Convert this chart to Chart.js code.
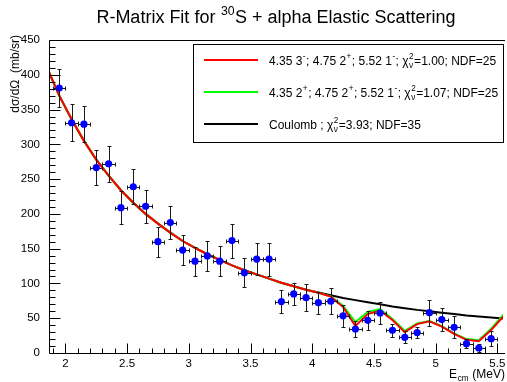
<!DOCTYPE html>
<html>

<head>
    <meta charset="utf-8">
    <title>R-Matrix fit</title>
    <script src="https://cdn.jsdelivr.net/npm/chart.js@4.4.1/dist/chart.umd.min.js"></script>
    <style>
        body { margin: 0; background: #fff; overflow: hidden; }
        #wrap { width: 507px; height: 382px; position: relative; }
    </style>
</head>

<body>
    <div id="wrap"><canvas id="c"></canvas></div>
    <script>
        // measured points (E_cm in MeV, cross section in mb/sr)
        const energies = [1.95, 2.05, 2.15, 2.25, 2.35, 2.45, 2.55, 2.65, 2.75, 2.85, 2.95, 3.05, 3.15, 3.25, 3.35, 3.45, 3.55, 3.65,
            3.75, 3.85, 3.95, 4.05, 4.15, 4.25, 4.35, 4.45, 4.55, 4.65, 4.75, 4.85, 4.95, 5.05, 5.15, 5.25, 5.35, 5.45]
        const sigma = [381, 331, 329, 266.6, 272, 209, 239, 211, 160, 187.5, 148, 132, 139.6, 132, 161.6, 115.5, 135, 135,
            74, 85, 79.6, 72.4, 74.4, 53.5, 34.5, 47, 57.5, 32.6, 22.6, 29.3, 58, 48, 37, 13.4, 7.2, 20.6]
        const sigmaErr = [28, 26.6, 26, 25, 26, 24, 25, 24, 21.6, 23.7, 21.6, 21, 22, 21.6, 24.5, 21, 23, 23.7,
            17, 16, 19, 16, 18.7, 15.6, 12, 13.7, 16, 9, 8.4, 8.4, 18.5, 17, 16, 6.7, 6, 11]
        const energyErr = 0.05

        // fit curves
        const curveE = [1.87, 1.95, 2.05, 2.15, 2.25, 2.35, 2.45, 2.55, 2.65, 2.75, 2.85, 2.95, 3.05, 3.15, 3.25, 3.35, 3.45, 3.55, 3.65,
            3.75, 3.85, 3.95, 4.05, 4.15, 4.25, 4.35, 4.45, 4.55, 4.65, 4.75, 4.85, 4.95, 5.05, 5.15, 5.25, 5.35, 5.45, 5.55]
        const fit3minus = [403, 370, 336, 305, 278, 255, 234, 216, 200, 186, 173, 161, 151, 142, 134, 126, 119, 113, 107,
            101, 96, 91, 86.5, 81, 66, 39, 56, 61, 47.5, 30, 41.5, 45.5, 38, 27.5, 19, 17, 33, 53]
        const fit2plus = [403, 370, 336, 305, 278, 255, 234, 216, 200, 186, 173, 161, 151, 142, 134, 126, 119, 113, 107,
            101, 96, 91, 86.5, 81.5, 68, 44.5, 59, 63, 49, 32, 42.5, 46, 38.5, 28, 20, 18.3, 35, 55]
        const coulomb = [402, 370, 336, 305, 278, 255, 234, 216, 200, 186, 173, 161, 151, 142, 134, 126, 119, 113, 107,
            101, 96, 91, 87, 83, 79, 76, 73, 70, 67, 64.5, 62, 60, 58, 56, 54, 52.5, 51, 49.5]

        const xMin = 1.867, xMax = 5.546
        const yMin = 0, yMax = 450

        const FONT = "'Liberation Sans', Arial, sans-serif"

        const pts = (xs, ys) => xs.map((x, i) => ({ x: x, y: ys[i] }))

        // draws text with super/subscripts: parts = [[text, kind, sub]]
        const richWidth = (ctx, parts, size) => {
            let w = 0
            parts.forEach((p) => {
                if (p[1] == 'n') {
                    ctx.font = size + 'px ' + FONT
                    w += ctx.measureText(p[0]).width
                } else {
                    ctx.font = (size * 0.68) + 'px ' + FONT
                    let a = ctx.measureText(p[0]).width
                    let b = p[2] ? ctx.measureText(p[2]).width : 0
                    w += Math.max(a, b) + 1
                }
            })
            return w
        }
        const drawRich = (ctx, x, y, parts, size, align) => {
            let w = richWidth(ctx, parts, size)
            if (align == 'center') x -= w / 2
            if (align == 'right') x -= w
            ctx.textAlign = 'left'
            ctx.textBaseline = 'alphabetic'
            parts.forEach((p) => {
                if (p[1] == 'n') {
                    ctx.font = size + 'px ' + FONT
                    ctx.fillText(p[0], x, y)
                    x += ctx.measureText(p[0]).width
                } else {
                    ctx.font = (size * 0.68) + 'px ' + FONT
                    let a = ctx.measureText(p[0]).width
                    let b = p[2] ? ctx.measureText(p[2]).width : 0
                    if (p[1] == 'sup' || p[1] == 'ss') ctx.fillText(p[0], x + 0.5, y - size * 0.42)
                    if (p[1] == 'sub') ctx.fillText(p[0], x + 0.5, y + size * 0.25)
                    if (p[1] == 'ss') ctx.fillText(p[2], x + 0.5, y + size * 0.25)
                    x += Math.max(a, b) + 1
                }
            })
        }

        const legendRows = [
            { color: '#ff0000', parts: [['4.35 3', 'n'], ['-', 'sup'], ['; 4.75 2', 'n'], ['+', 'sup'], ['; 5.52 1', 'n'], ['-', 'sup'], ['; \u03c7', 'n'], ['2', 'ss', '\u03bd'], ['=1.00; NDF=25', 'n']] },
            { color: '#00ff00', parts: [['4.35 2', 'n'], ['+', 'sup'], ['; 4.75 2', 'n'], ['+', 'sup'], ['; 5.52 1', 'n'], ['-', 'sup'], ['; \u03c7', 'n'], ['2', 'ss', '\u03bd'], ['=1.07; NDF=25', 'n']] },
            { color: '#000000', parts: [['Coulomb ; \u03c7', 'n'], ['2', 'ss', '\u03bd'], ['=3.93; NDF=35', 'n']] }
        ]

        const rootStyle = {
            id: 'rootStyle',
            beforeDatasetDraw(chart, args) {
                // error bars go right under the markers
                if (args.index != 0) return
                const ctx = chart.ctx, xs = chart.scales.x, ys = chart.scales.y
                const a = chart.chartArea
                ctx.save()
                ctx.beginPath()
                ctx.rect(a.left, a.top, a.right - a.left, a.bottom - a.top)
                ctx.clip()
                ctx.strokeStyle = '#1a1a1a'
                ctx.lineWidth = 1
                energies.forEach((e, i) => {
                    const px = Math.round(xs.getPixelForValue(e)) + 0.5
                    const py = Math.round(ys.getPixelForValue(sigma[i])) + 0.5
                    const x0 = Math.round(xs.getPixelForValue(e - energyErr)) + 0.5
                    const x1 = Math.round(xs.getPixelForValue(e + energyErr)) + 0.5
                    const y0 = Math.round(ys.getPixelForValue(sigma[i] + sigmaErr[i])) + 0.5
                    const y1 = Math.round(ys.getPixelForValue(Math.max(0, sigma[i] - sigmaErr[i]))) + 0.5
                    ctx.beginPath()
                    ctx.moveTo(x0, py); ctx.lineTo(x1, py)
                    ctx.moveTo(x0, py - 2); ctx.lineTo(x0, py + 2)
                    ctx.moveTo(x1, py - 2); ctx.lineTo(x1, py + 2)
                    ctx.moveTo(px, y0); ctx.lineTo(px, y1)
                    ctx.moveTo(px - 2, y0); ctx.lineTo(px + 2, y0)
                    ctx.moveTo(px - 2, y1); ctx.lineTo(px + 2, y1)
                    ctx.stroke()
                })
                ctx.restore()
            },
            afterDraw(chart) {
                const ctx = chart.ctx, xs = chart.scales.x, ys = chart.scales.y
                const a = chart.chartArea
                ctx.save()
                ctx.fillStyle = '#000'
                ctx.strokeStyle = '#000'
                ctx.lineWidth = 1

                // frame
                const L = Math.round(a.left) + 0.5, T = Math.round(a.top) + 0.5, B = Math.round(a.bottom) + 0.5
                ctx.beginPath()
                ctx.moveTo(a.right + 2, T); ctx.lineTo(L, T); ctx.lineTo(L, B); ctx.lineTo(a.right + 2, B)
                ctx.stroke()

                // y ticks, inward
                ctx.beginPath()
                for (let v = yMin; v <= yMax + 0.01; v += 10) {
                    const y = Math.round(ys.getPixelForValue(v)) + 0.5
                    const len = (Math.round(v) % 50 == 0) ? 11 : 6
                    ctx.moveTo(L, y); ctx.lineTo(L + len, y)
                }
                // x ticks, inward
                for (let k = Math.ceil(xMin * 10); k <= Math.floor(xMax * 10); k++) {
                    const x = Math.round(xs.getPixelForValue(k / 10)) + 0.5
                    const len = (k % 5 == 0) ? 10 : 5
                    ctx.moveTo(x, B); ctx.lineTo(x, B - len)
                }
                ctx.stroke()

                // title
                drawRich(ctx, 276, 23, [['R-Matrix Fit for ', 'n'], ['30', 'sup'], ['S + alpha Elastic Scattering', 'n']], 18, 'center')

                // axis titles
                drawRich(ctx, 505, 378, [['E', 'n'], ['cm', 'sub'], [' (MeV)', 'n']], 12, 'right')
                ctx.save()
                ctx.translate(18.5, 35)
                ctx.rotate(-Math.PI / 2)
                drawRich(ctx, 0, 0, [['d\u03c3/d\u03a9  (mb/sr)', 'n']], 12, 'right')
                ctx.restore()

                // legend box
                ctx.fillStyle = '#fff'
                ctx.fillRect(193, 44, 310, 98)
                ctx.strokeRect(193.5, 44.5, 310, 98)
                legendRows.forEach((r, i) => {
                    const cy = 60 + i * 32
                    ctx.strokeStyle = r.color
                    ctx.lineWidth = 2
                    ctx.beginPath()
                    ctx.moveTo(204, cy); ctx.lineTo(258, cy)
                    ctx.stroke()
                    ctx.fillStyle = '#000'
                    drawRich(ctx, 269, cy + 4.5, r.parts, 12, 'left')
                })
                ctx.restore()
            }
        }

        const lineSet = (label, data, color, order) => ({
            label: label,
            data: data,
            showLine: true,
            borderColor: color,
            borderWidth: 2,
            pointRadius: 0,
            fill: false,
            tension: 0,
            order: order
        })

        new Chart(document.getElementById('c'), {
            type: 'scatter',
            data: {
                datasets: [
                    {
                        label: 'data',
                        data: pts(energies, sigma),
                        pointRadius: 3.6,
                        pointBackgroundColor: '#0000ff',
                        pointBorderColor: '#0000ff',
                        pointBorderWidth: 0,
                        showLine: false,
                        order: 0
                    },
                    lineSet('3-', pts(curveE, fit3minus), '#ff0000', 1),
                    lineSet('2+', pts(curveE, fit2plus), '#00ff00', 2),
                    lineSet('Coulomb', pts(curveE, coulomb), '#000000', 3)
                ]
            },
            options: {
                responsive: true,
                maintainAspectRatio: false,
                animation: false,
                devicePixelRatio: 1,
                layout: { padding: { top: 40, left: 0, right: 0, bottom: 0 } },
                plugins: { legend: { display: false }, tooltip: { enabled: false }, title: { display: false } },
                scales: {
                    x: {
                        type: 'linear',
                        min: xMin,
                        max: xMax,
                        grid: { display: false, drawTicks: false },
                        border: { display: false },
                        ticks: {
                            stepSize: 0.5,
                            includeBounds: false,
                            maxRotation: 0,
                            autoSkip: false,
                            padding: 4,
                            color: '#000',
                            font: { family: FONT, size: 11.5 },
                            callback: (v) => String(Number(v.toFixed(2)))
                        },
                        afterFit: (s) => { s.height = 29; s.paddingLeft = 0; s.paddingRight = 0 }
                    },
                    y: {
                        min: yMin,
                        max: yMax,
                        grid: { display: false, drawTicks: false },
                        border: { display: false },
                        ticks: {
                            stepSize: 50,
                            padding: 9,
                            color: '#000',
                            font: { family: FONT, size: 11.5 }
                        },
                        afterFit: (s) => { s.width = 49; s.paddingTop = 0; s.paddingBottom = 0 }
                    }
                }
            },
            plugins: [rootStyle]
        })
    </script>
</body>

</html>
